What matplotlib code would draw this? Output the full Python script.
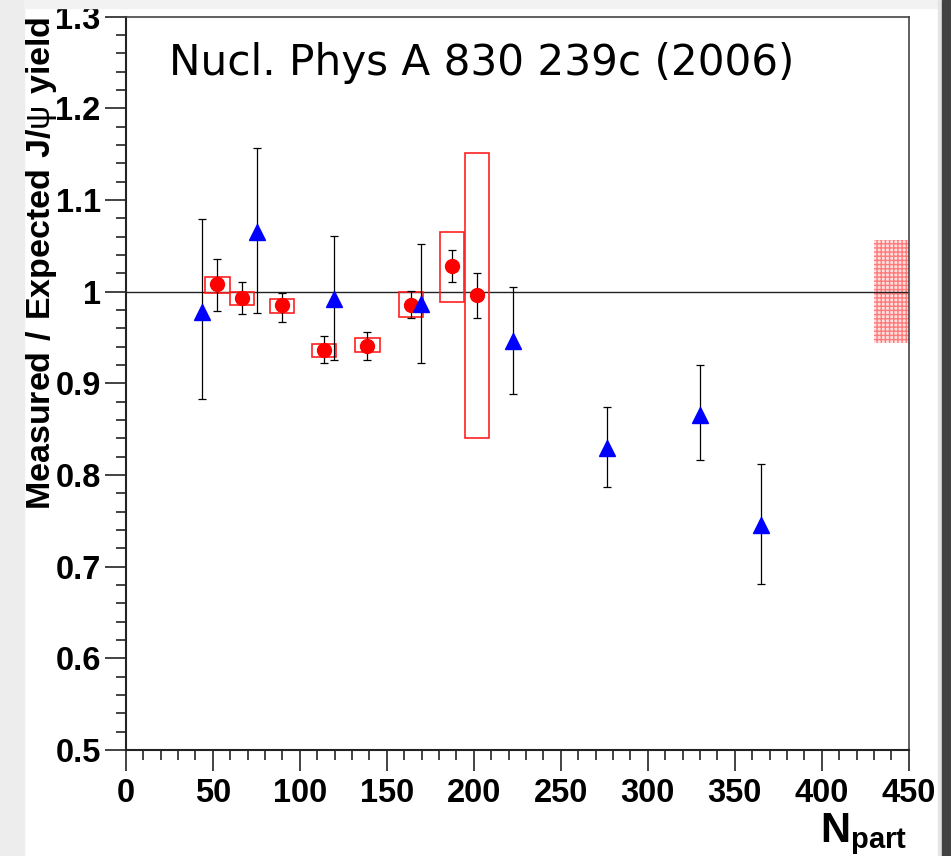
#!/usr/bin/env python3
"""Measured / expected J/psi yield vs N_part (NA50/NA60 style plot)."""

import matplotlib
matplotlib.use('Agg')
import matplotlib.pyplot as plt
from matplotlib.patches import Rectangle

plt.rcParams['font.family'] = ['Liberation Sans', 'DejaVu Sans']
plt.rcParams['mathtext.fontset'] = 'custom'
plt.rcParams['mathtext.rm'] = 'Liberation Sans'
plt.rcParams['mathtext.bf'] = 'Liberation Sans:bold'
plt.rcParams['hatch.linewidth'] = 1.0

# blue triangles: value with stat error (asymmetric)
tri_x = [43.7, 75.3, 119.7, 169.7, 222.8, 276.4, 330.0, 365.1]
tri_y = [0.978, 1.065, 0.992, 0.987, 0.946, 0.829, 0.866, 0.745]
tri_hi = [1.079, 1.157, 1.061, 1.052, 1.005, 0.874, 0.920, 0.812]
tri_lo = [0.883, 0.977, 0.925, 0.922, 0.888, 0.787, 0.816, 0.681]

# red circles: value, stat error and systematic box
circ_x = [52.7, 67.0, 90.0, 114.0, 138.9, 163.8, 187.4, 202.0]
circ_y = [1.008, 0.993, 0.985, 0.936, 0.941, 0.986, 1.028, 0.996]
circ_hi = [1.036, 1.011, 0.999, 0.952, 0.956, 1.001, 1.045, 1.020]
circ_lo = [0.979, 0.976, 0.967, 0.922, 0.926, 0.971, 1.011, 0.971]
box_hi = [1.016, 1.000, 0.992, 0.943, 0.949, 1.000, 1.065, 1.151]
box_lo = [0.999, 0.985, 0.977, 0.929, 0.934, 0.972, 0.989, 0.840]
box_halfwidth = 7.0

# global normalisation uncertainty band at the right edge
global_x = [430, 450]
global_lo = 0.944
global_hi = 1.056

title = 'Nucl. Phys A 830 239c (2006)'
ylabel = r'$\mathbf{Measured\ /\ Expected\ J/}\mathrm{\psi}\mathbf{\ yield}$'

W, H = 951, 856
fig = plt.figure(figsize=(W / 100, H / 100), dpi=100)
fig.patch.set_facecolor('white')

# slide-style border around the picture
fig.patches.append(Rectangle((0, 0), 24 / W, 1, transform=fig.transFigure,
                             color='#ededed', zorder=0))
fig.patches.append(Rectangle((24 / W, 1 - 8 / H), (938 - 24) / W, 8 / H,
                             transform=fig.transFigure, color='#f2f2f2', zorder=0))
fig.patches.append(Rectangle((938 / W, 0), 4 / W, 1, transform=fig.transFigure,
                             color='#e4e4e4', zorder=0))
fig.patches.append(Rectangle((942 / W, 0), 9 / W, 1, transform=fig.transFigure,
                             color='#424242', zorder=0))

left, right, top, bottom = 125.7, 908.7, 16.7, 750.0
ax = fig.add_axes([left / W, 1 - bottom / H, (right - left) / W, (bottom - top) / H])

ax.set_xlim(0, 450)
ax.set_ylim(0.5, 1.3)

# reference line at 1
ax.axhline(1.0, color='#222222', lw=1.0, zorder=2)

# global uncertainty
ax.fill_between(global_x, global_lo, global_hi, facecolor='#ffe0e0',
                edgecolor=(1, 0, 0, 0.45), hatch='++++', linewidth=0, zorder=1)

# systematic boxes
for x, lo, hi in zip(circ_x, box_lo, box_hi):
    ax.add_patch(Rectangle((x - box_halfwidth, lo), 2 * box_halfwidth, hi - lo,
                           fill=False, edgecolor='#ff2020', lw=1.2, zorder=3))

# red circles
ax.errorbar(circ_x, circ_y,
            yerr=[[y - l for y, l in zip(circ_y, circ_lo)],
                  [h - y for y, h in zip(circ_y, circ_hi)]],
            fmt='none', ecolor='black', elinewidth=0.9, capsize=3.0, capthick=0.9,
            zorder=4)
ax.plot(circ_x, circ_y, 'o', color='#ff0000', markersize=10, zorder=5)

# blue triangles
ax.errorbar(tri_x, tri_y,
            yerr=[[y - l for y, l in zip(tri_y, tri_lo)],
                  [h - y for y, h in zip(tri_y, tri_hi)]],
            fmt='none', ecolor='black', elinewidth=0.9, capsize=3.0, capthick=0.9,
            zorder=4)
ax.plot(tri_x, tri_y, '^', color='#0000ff', markersize=11, zorder=6)

# axes styling (ROOT look)
ax.set_xticks(range(0, 451, 50))
ax.set_xticks(range(0, 451, 10), minor=True)
ax.set_yticks([0.5, 0.6, 0.7, 0.8, 0.9, 1.0, 1.1, 1.2, 1.3])
ax.set_yticklabels(['0.5', '0.6', '0.7', '0.8', '0.9', '1', '1.1', '1.2', '1.3'])
ax.set_yticks([0.5 + 0.02 * i for i in range(41)], minor=True)
ax.tick_params(which='both', direction='out', color='#222222', width=1.2,
               top=False, right=False)
ax.tick_params(which='major', length=15, labelsize=23.5)
ax.tick_params(which='minor', length=7)
ax.tick_params(axis='x', pad=5)
ax.tick_params(axis='y', pad=3)
for lab in ax.get_xticklabels() + ax.get_yticklabels():
    lab.set_fontweight('bold')
for side in ['left', 'bottom']:
    ax.spines[side].set_linewidth(1.5)
    ax.spines[side].set_color('#222222')
for side in ['top', 'right']:
    ax.spines[side].set_linewidth(1.2)
    ax.spines[side].set_color('#444444')

ax.text(0.0557, 0.9205, title, transform=ax.transAxes, family='DejaVu Sans',
        fontsize=30.3, va='baseline', ha='left')

fig.text(24 / W, 1 - 17 / H, ylabel, rotation=90,
         ha='left', va='top', fontsize=24.5)
fig.text(907 / W, 1 - 841.7 / H, r'$\mathbf{N}_{\mathbf{part}}$',
         ha='right', va='baseline', fontsize=30)

fig.savefig('out.png', dpi=100)
